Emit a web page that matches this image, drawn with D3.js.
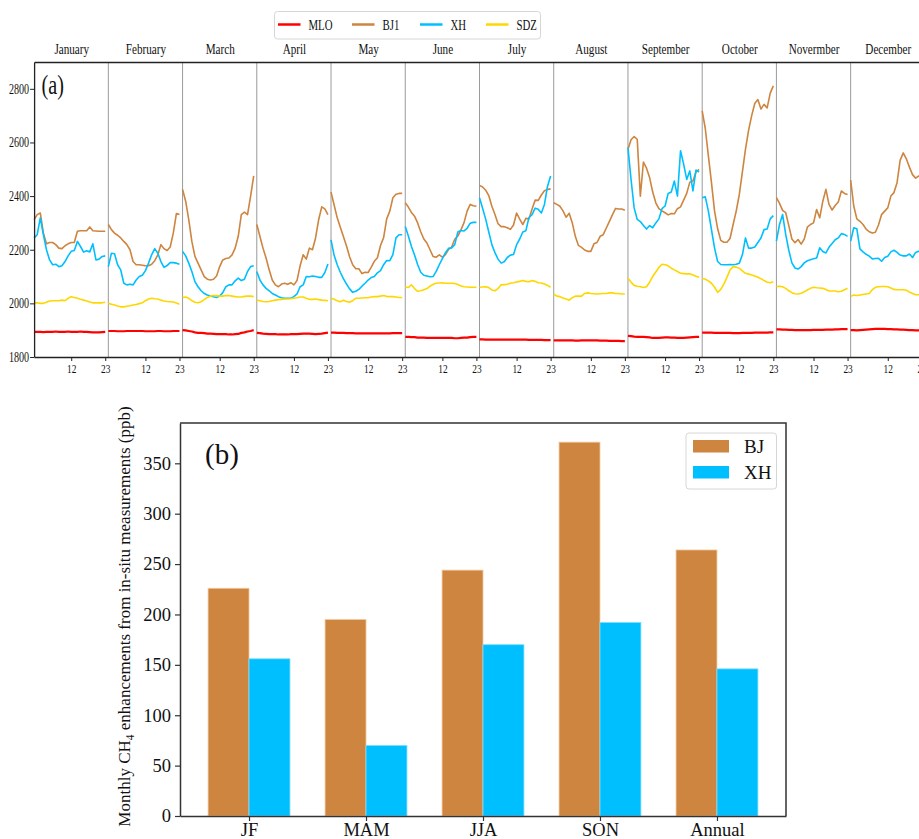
<!DOCTYPE html>
<html>
<head>
<meta charset="utf-8">
<script src="https://cdn.jsdelivr.net/npm/d3@7"></script>
<style>
body { margin: 0; background: #fff; }
svg { display: block; font-family: "Liberation Serif", "Times New Roman", serif; }
</style>
</head>
<body>
<svg id="chart" width="919" height="839"></svg>
<script>
// ---- data (a): diurnal CH4 per month, hours 0..23 ----
const months = ["January", "February", "March", "April", "May", "June", "July",
    "August", "September", "October", "Novermber", "December"];
const hourTicks = [12, 23];
const yTicksA = [1800, 2000, 2200, 2400, 2600, 2800];

const mlo = [
    [1894,1894,1894,1893,1894,1894,1894,1895,1894,1894,1894,1895,1894,1894,1894,1895,1894,1894,1893,1892,1892,1892,1893,1894],
    [1897,1897,1897,1896,1896,1896,1897,1897,1897,1897,1897,1897,1896,1896,1896,1896,1897,1897,1896,1896,1896,1897,1897,1897],
    [1900,1899,1897,1895,1892,1890,1890,1889,1887,1887,1886,1885,1885,1885,1885,1884,1884,1885,1886,1890,1892,1895,1897,1900],
    [1890,1889,1887,1886,1885,1885,1885,1884,1884,1884,1884,1885,1885,1885,1886,1887,1887,1887,1886,1885,1886,1887,1889,1891],
    [1891,1891,1890,1890,1890,1889,1889,1889,1888,1888,1888,1888,1888,1888,1888,1888,1888,1888,1888,1888,1889,1889,1889,1889],
    [1875,1875,1874,1874,1872,1872,1872,1871,1871,1871,1871,1871,1871,1871,1871,1871,1870,1870,1871,1872,1872,1874,1875,1875],
    [1866,1866,1865,1865,1865,1865,1865,1865,1865,1865,1865,1865,1865,1865,1865,1865,1864,1864,1864,1864,1864,1863,1863,1863],
    [1862,1862,1862,1862,1862,1862,1862,1861,1861,1862,1862,1862,1862,1862,1862,1861,1861,1861,1860,1860,1860,1860,1859,1859],
    [1879,1878,1876,1875,1875,1875,1874,1873,1871,1871,1871,1872,1873,1873,1872,1872,1871,1871,1871,1872,1873,1874,1875,1875],
    [1891,1891,1891,1891,1890,1890,1890,1890,1890,1890,1889,1889,1889,1890,1890,1890,1890,1891,1891,1891,1891,1891,1892,1892],
    [1903,1903,1902,1902,1901,1901,1900,1900,1900,1900,1900,1900,1901,1901,1901,1901,1902,1902,1902,1903,1903,1904,1904,1904],
    [1900,1900,1899,1900,1901,1902,1903,1904,1905,1905,1905,1905,1904,1904,1903,1903,1902,1902,1901,1900,1900,1899,1899,1899]
];

const bj1 = [
    [2312,2331,2337,2262,2222,2227,2227,2219,2206,2204,2215,2222,2227,2227,2269,2271,2271,2271,2285,2271,2270,2269,2269,2269],
    [2294,2275,2262,2254,2244,2231,2219,2200,2156,2144,2144,2142,2140,2140,2146,2159,2181,2219,2204,2197,2210,2262,2335,2331],
    [2425,2381,2312,2231,2175,2150,2125,2100,2090,2087,2090,2102,2137,2162,2167,2169,2181,2206,2250,2331,2340,2331,2400,2475],
    [2294,2250,2206,2169,2125,2087,2069,2062,2072,2075,2071,2077,2069,2085,2140,2181,2165,2206,2200,2244,2312,2360,2352,2331],
    [2415,2367,2319,2284,2249,2214,2174,2144,2129,2129,2111,2116,2115,2135,2157,2170,2216,2245,2315,2344,2394,2407,2410,2410],
    [2375,2359,2339,2325,2300,2267,2240,2225,2200,2175,2172,2181,2172,2182,2201,2210,2239,2251,2274,2301,2344,2369,2364,2362],
    [2440,2434,2422,2402,2362,2331,2297,2286,2286,2282,2276,2292,2337,2314,2294,2317,2315,2352,2385,2384,2404,2420,2425,2427],
    [2375,2369,2362,2345,2321,2336,2300,2249,2216,2209,2199,2194,2194,2222,2227,2250,2256,2281,2306,2331,2354,2352,2352,2347],
    [2575,2610,2622,2612,2400,2527,2504,2469,2415,2375,2353,2345,2338,2330,2335,2334,2353,2360,2385,2410,2452,2456,2490,2500],
    [2718,2652,2550,2450,2344,2278,2235,2228,2228,2242,2294,2344,2406,2490,2575,2645,2700,2745,2760,2725,2742,2729,2784,2811],
    [2394,2373,2347,2338,2290,2240,2226,2238,2221,2240,2284,2294,2300,2350,2319,2381,2425,2369,2348,2365,2378,2419,2410,2406],
    [2460,2363,2315,2306,2294,2277,2267,2262,2265,2292,2331,2344,2356,2400,2413,2450,2533,2561,2539,2508,2480,2467,2475,2470]
];

const xh = [
    [2244,2256,2319,2256,2200,2162,2144,2146,2137,2140,2156,2177,2194,2197,2231,2212,2191,2196,2192,2222,2162,2165,2175,2177],
    [2137,2187,2185,2144,2125,2075,2069,2071,2069,2087,2100,2105,2122,2150,2181,2204,2187,2156,2134,2141,2152,2152,2150,2146],
    [2194,2177,2150,2119,2081,2062,2047,2037,2031,2027,2025,2022,2027,2040,2062,2069,2069,2084,2094,2085,2090,2119,2137,2140],
    [2119,2087,2069,2056,2047,2037,2031,2025,2021,2019,2019,2019,2025,2035,2062,2069,2100,2099,2102,2100,2097,2097,2115,2147],
    [2237,2179,2144,2116,2092,2072,2054,2041,2045,2052,2064,2075,2087,2096,2100,2114,2122,2144,2160,2159,2182,2244,2256,2256],
    [2287,2251,2212,2180,2145,2116,2105,2102,2099,2100,2119,2144,2167,2189,2205,2207,2219,2266,2272,2270,2280,2299,2302,2302],
    [2394,2355,2314,2266,2219,2189,2165,2150,2155,2171,2180,2182,2219,2240,2266,2271,2320,2331,2355,2351,2337,2369,2437,2475],
    [null,null,null,null,null,null,null,null,null,null,null,null,null,null,null,null,null,null,null,null,null,null,null,null],
    [2581,2462,2356,2313,2305,2290,2277,2290,2282,2300,2315,2353,2363,2410,2415,2456,2400,2569,2519,2462,2494,2419,2497,2490],
    [2394,2397,2344,2275,2206,2156,2145,2144,2144,2145,2144,2146,2150,2181,2244,2206,2206,2210,2227,2244,2275,2277,2315,2327],
    [2232,2294,2331,2257,2198,2151,2132,2128,2137,2151,2159,2163,2166,2169,2207,2193,2188,2209,2223,2237,2244,2260,2257,2250],
    [2232,2282,2278,2203,2192,2183,2176,2166,2167,2168,2157,2171,2176,2192,2198,2190,2180,2177,2177,2184,2171,2190,2194,2194]
];

const sdz = [
    [2002,2002,2000,2000,2004,2009,2010,2010,2010,2012,2010,2019,2025,2022,2019,2015,2012,2009,2005,2002,2002,2002,2002,2004],
    [2000,1997,1994,1990,1987,1987,1989,1991,1994,1996,1999,2002,2010,2016,2019,2017,2016,2012,2009,2007,2006,2005,2001,1997],
    [2022,2024,2019,2010,2004,2002,2006,2014,2022,2027,2029,2029,2027,2027,2029,2029,2027,2025,2024,2024,2026,2027,2027,2025],
    [2012,2010,2007,2006,2007,2010,2012,2014,2015,2016,2016,2017,2019,2021,2024,2024,2019,2015,2015,2016,2014,2012,2011,2010],
    [2019,2015,2010,2006,2012,2007,2004,2010,2019,2019,2020,2021,2021,2024,2025,2025,2027,2029,2026,2025,2025,2024,2022,2022],
    [2060,2060,2069,2055,2045,2047,2051,2055,2064,2071,2075,2076,2077,2075,2075,2075,2074,2070,2065,2062,2061,2060,2060,2060],
    [2060,2061,2062,2059,2050,2047,2055,2069,2070,2071,2075,2077,2080,2082,2085,2082,2081,2085,2082,2077,2076,2072,2067,2060],
    [2035,2027,2025,2020,2016,2012,2021,2027,2027,2027,2037,2039,2037,2036,2035,2036,2037,2037,2039,2039,2037,2037,2035,2035],
    [2094,2079,2067,2064,2062,2059,2062,2079,2100,2117,2134,2146,2144,2140,2131,2125,2119,2112,2111,2110,2110,2106,2101,2097],
    [2094,2090,2084,2075,2060,2041,2052,2072,2097,2125,2137,2135,2131,2121,2112,2109,2106,2102,2097,2092,2085,2079,2077,2081],
    [2063,2064,2062,2056,2047,2040,2036,2035,2038,2043,2050,2056,2060,2058,2057,2056,2052,2046,2046,2046,2043,2045,2051,2056],
    [2026,2031,2029,2031,2033,2035,2037,2051,2060,2062,2063,2063,2062,2057,2052,2051,2051,2051,2049,2042,2037,2032,2032,2032]
];

const stationNames = ["MLO", "BJ1", "XH", "SDZ"];
const stationColors = ["red", "#cd853f", "#00bfff", "#ffd700"];
const stationData = [mlo, bj1, xh, sdz];

// ---- data (b): seasonal enhancements ----
const seasons = ["JF", "MAM", "JJA", "SON", "Annual"];
const bjEnh = [226, 195, 244, 371, 264];
const xhEnh = [156, 70, 170, 192, 146];
const yTicksB = [0, 50, 100, 150, 200, 250, 300, 350];

const serif = "Liberation Serif, Times New Roman, serif";
const svg = d3.select("#chart");
const squeeze = "scale(0.72,1)";   // panel (a) text is horizontally compressed

// ================= panel (a) =================
const xA = d3.scaleLinear().domain([0, 288]).range([34.1, 34.1 + 288 * 3.093]);
const yA = d3.scaleLinear().domain([1800, 2900]).range([357, 62]);

const gA = svg.append("g");

// month separators
gA.selectAll("line.sep")
    .data(d3.range(1, 12))
    .enter().append("line")
    .attr("class", "sep")
    .attr("x1", m => xA(m * 24)).attr("x2", m => xA(m * 24))
    .attr("y1", yA(2900)).attr("y2", yA(1800))
    .attr("stroke", "#9a9a9a")
    .attr("stroke-width", 1);

const line = d3.line()
    .defined(d => d.v != null)
    .x(d => xA(d.i))
    .y(d => yA(d.v));

stationData.forEach((series, s) => {
    series.forEach((vals, m) => {
        const pts = vals.map((v, h) => ({ i: m * 24 + h, v: v }));
        gA.append("path")
            .datum(pts)
            .attr("d", line)
            .attr("fill", "none")
            .attr("stroke", stationColors[s])
            .attr("stroke-width", s === 0 ? 2.2 : 1.6)
            .attr("stroke-linejoin", "round");
    });
});

// axes
const leftA = gA.append("g")
    .attr("transform", `translate(${xA(0)},0)`)
    .call(d3.axisLeft(yA).tickValues(yTicksA).tickFormat(d3.format("d"))
        .tickSize(4).tickSizeOuter(0).tickPadding(3));

const bottomTicks = [];
months.forEach((_, m) => hourTicks.forEach(h => bottomTicks.push(m * 24 + h)));
const bottomA = gA.append("g")
    .attr("transform", `translate(0,${yA(1800)})`)
    .call(d3.axisBottom(xA).tickValues(bottomTicks).tickFormat(d => d % 24)
        .tickSize(4).tickSizeOuter(0).tickPadding(3));

const topA = gA.append("g")
    .attr("transform", `translate(0,${yA(2900)})`)
    .call(d3.axisTop(xA).tickValues(d3.range(12).map(m => m * 24 + 12))
        .tickFormat((d, i) => months[i]).tickSize(0).tickSizeOuter(0).tickPadding(8));

[leftA, bottomA, topA].forEach(ax => {
    ax.select(".domain").attr("stroke", "#222").attr("stroke-width", 1.3);
    ax.selectAll(".tick line").attr("stroke", "#222");
    ax.selectAll("text")
        .attr("font-family", serif)
        .attr("fill", "#111")
        .attr("transform", squeeze);
});
leftA.selectAll("text").attr("font-size", 14);
bottomA.selectAll("text").attr("font-size", 13);
topA.selectAll("text").attr("font-size", 15.5);

gA.append("text")
    .attr("transform", `translate(41.5,94) ${squeeze}`)
    .attr("font-size", 28)
    .attr("fill", "#111")
    .text("(a)");

// legend (a)
const legA = gA.append("g");
legA.append("rect")
    .attr("x", 274.5).attr("y", 11.5).attr("width", 266).attr("height", 27.5)
    .attr("rx", 3).attr("fill", "#fff").attr("stroke", "#d6d6d6");
const legX = [278, 352, 420, 486];
stationNames.forEach((name, i) => {
    legA.append("line")
        .attr("x1", legX[i]).attr("x2", legX[i] + 22.5)
        .attr("y1", 24.5).attr("y2", 24.5)
        .attr("stroke", stationColors[i]).attr("stroke-width", 2.5);
    legA.append("text")
        .attr("transform", `translate(${legX[i] + 30.5},29.5) ${squeeze}`)
        .attr("font-size", 15)
        .attr("fill", "#111")
        .text(name);
});

// ================= panel (b) =================
const xB = d3.scaleLinear().domain([-0.59, 4.59]).range([180, 786]);
const yB = d3.scaleLinear().domain([0, 390]).range([816, 423]);
const barW = 0.35;

const gB = svg.append("g");

gB.selectAll("rect.bj")
    .data(bjEnh)
    .enter().append("rect")
    .attr("class", "bj")
    .attr("x", (d, i) => xB(i - barW))
    .attr("width", xB(barW) - xB(0))
    .attr("y", d => yB(d))
    .attr("height", d => yB(0) - yB(d))
    .attr("fill", "#cd853f")
    .attr("stroke", "#f3c9a0").attr("stroke-width", 0.8);

gB.selectAll("rect.xh")
    .data(xhEnh)
    .enter().append("rect")
    .attr("class", "xh")
    .attr("x", (d, i) => xB(i))
    .attr("width", xB(barW) - xB(0))
    .attr("y", d => yB(d))
    .attr("height", d => yB(0) - yB(d))
    .attr("fill", "#00bfff")
    .attr("stroke", "#7fdcff").attr("stroke-width", 0.8);

const leftB = gB.append("g")
    .attr("transform", `translate(${xB.range()[0]},0)`)
    .call(d3.axisLeft(yB).tickValues(yTicksB).tickSize(5).tickSizeOuter(0).tickPadding(4));
const bottomB = gB.append("g")
    .attr("transform", `translate(0,${yB(0)})`)
    .call(d3.axisBottom(xB).tickValues(d3.range(seasons.length))
        .tickFormat(i => seasons[i]).tickSize(5).tickSizeOuter(0).tickPadding(2));

[leftB, bottomB].forEach(ax => {
    ax.select(".domain").attr("stroke", "#333").attr("stroke-width", 1.5);
    ax.selectAll(".tick line").attr("stroke", "#333").attr("stroke-width", 1.2);
    ax.selectAll("text")
        .attr("font-family", serif)
        .attr("fill", "#111")
        .attr("font-size", 18.5);
});

// frame top and right
gB.append("path")
    .attr("d", `M${xB.range()[0]},${yB(390)}H${xB.range()[1]}V${yB(0)}`)
    .attr("fill", "none").attr("stroke", "#333").attr("stroke-width", 1.5);

gB.append("text")
    .attr("x", 205).attr("y", 464)
    .attr("font-size", 29)
    .attr("fill", "#111")
    .text("(b)");

const ylab = gB.append("text")
    .attr("transform", `translate(130,${(yB(0) + yB(390)) / 2 - 3}) rotate(-90)`)
    .attr("text-anchor", "middle")
    .attr("font-size", 17)
    .attr("fill", "#111");
ylab.append("tspan").text("Monthly CH");
ylab.append("tspan").attr("font-size", 11.5).attr("dy", 4).text("4");
ylab.append("tspan").attr("dy", -4).text(" enhancements from in-situ measurements (ppb)");

// legend (b)
const legB = gB.append("g");
legB.append("rect")
    .attr("x", 686).attr("y", 433).attr("width", 90.5).attr("height", 56)
    .attr("rx", 3).attr("fill", "#fff").attr("stroke", "#d6d6d6").attr("stroke-width", 1);
[["BJ", "#cd853f", 440], ["XH", "#00bfff", 466]].forEach(([name, color, y]) => {
    legB.append("rect")
        .attr("x", 693).attr("y", y).attr("width", 36).attr("height", 12.5)
        .attr("fill", color);
    legB.append("text")
        .attr("x", 744).attr("y", y + 12.5)
        .attr("font-size", 19)
        .attr("fill", "#111")
        .text(name);
});
</script>
</body>
</html>
